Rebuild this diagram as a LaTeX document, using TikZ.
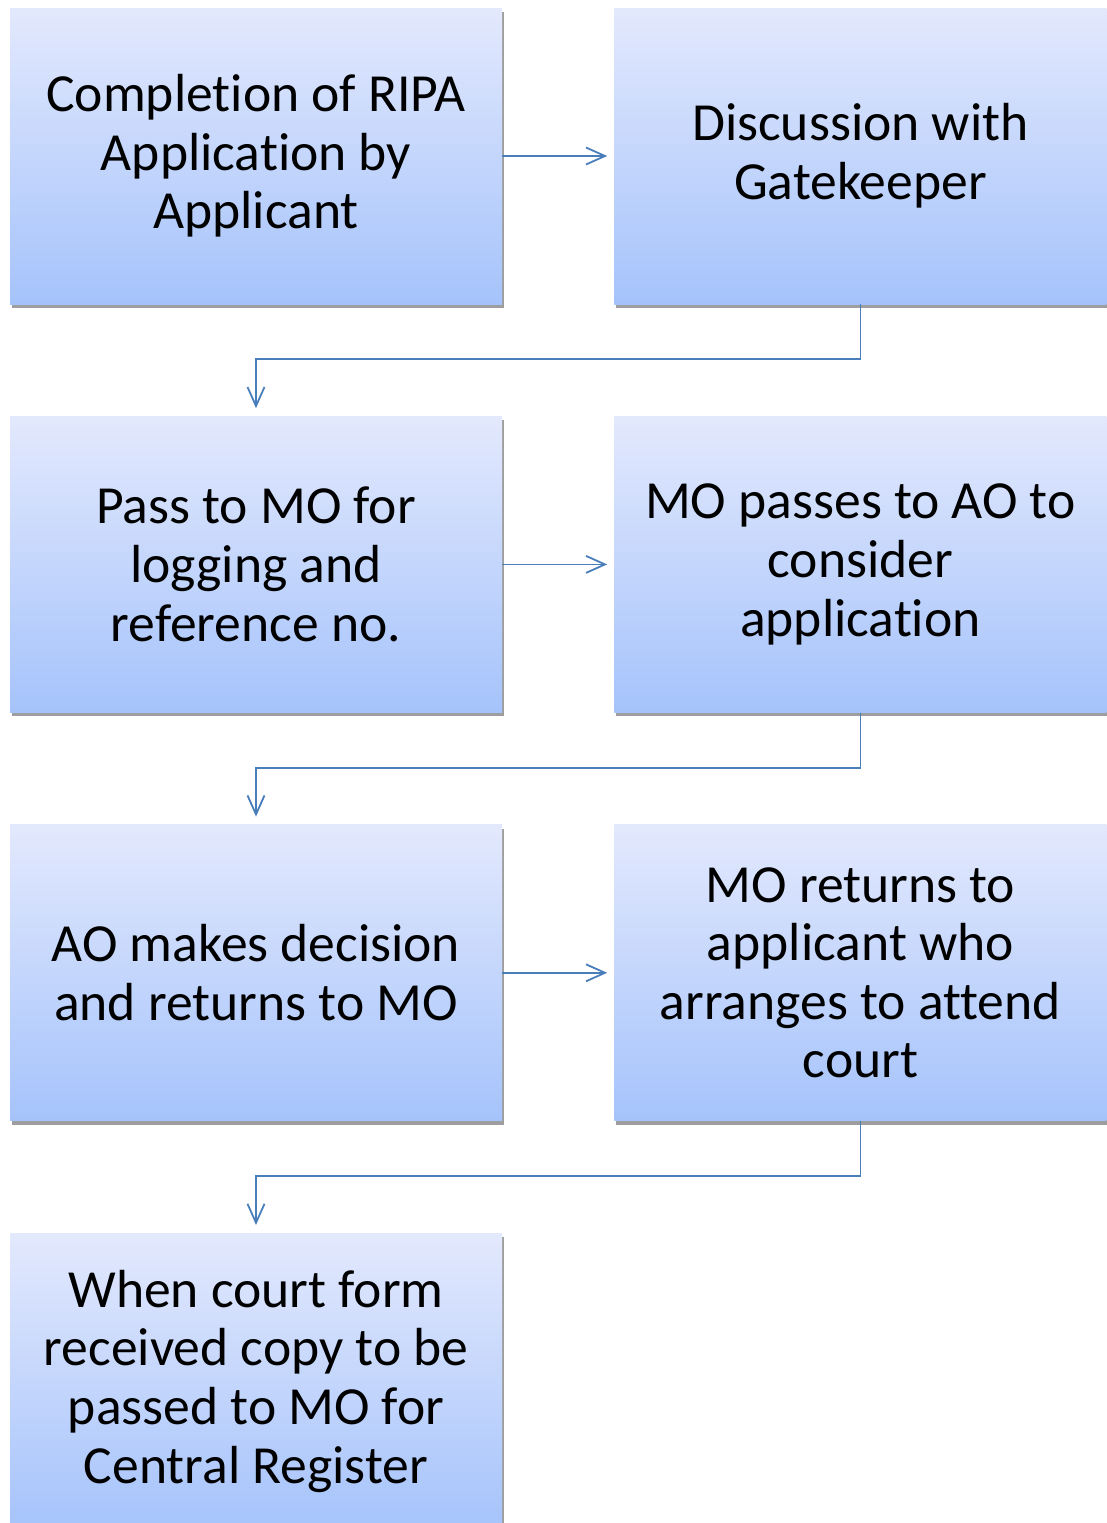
\documentclass[tikz,border=0pt]{standalone}
\usepackage{fontspec}
\setmainfont{Carlito}[Ligatures=CommonOff]
\usetikzlibrary{positioning,arrows.meta,shadows}

\definecolor{boxtop}{HTML}{E3E9FD}
\definecolor{boxbot}{HTML}{A5C3FB}
\definecolor{shadowgray}{HTML}{9E9E9E}
\definecolor{flowblue}{HTML}{4A7EBB}

\begin{document}
\begin{tikzpicture}[x=1pt, y=1pt, node distance=112pt]
  \tikzstyle{stage}=[rectangle, top color=boxtop, bottom color=boxbot, draw=none,
    minimum width=492pt, minimum height=296pt, inner sep=0pt, align=center,
    font=\fontsize{53.6}{58.6}\selectfont,
    general shadow={fill=shadowgray, shadow xshift=2pt, shadow yshift=-4pt}]
  \tikzstyle{flow}=[draw=flowblue, line width=1.8pt,
    -{Straight Barb[length=19pt, width=17pt, line width=1.8pt]}]

  \useasboundingbox (0,0) rectangle (1107,-1523);

  \node[stage] (apply) at (256,-156) {Completion of RIPA\\ Application by\\ Applicant};
  \node[stage, right=of apply] (gate) {Discussion with\\ Gatekeeper};
  \node[stage, below=of apply] (log) {Pass to MO for\\ logging and\\ reference no.};
  \node[stage, right=of log] (consider) {MO passes to AO to\\ consider\\ application};
  \node[stage, below=of log] (decide) {AO makes decision\\ and returns to MO};
  \node[stage, right=of decide] (court) {MO returns to\\ applicant who\\ arranges to attend\\ court};
  \node[stage, below=of decide] (register) {When court form\\ received copy to be\\ passed to MO for\\ Central Register};

  % across
  \draw[flow, shorten >=7pt] (apply) -- (gate);
  \draw[flow, shorten >=7pt] (log) -- (consider);
  \draw[flow, shorten >=7pt] (decide) -- (court);

  % back down to the left column
  \draw[flow, shorten >=8pt] (gate.south) -- ++(0,-55) -| (log.north);
  \draw[flow, shorten >=8pt] (consider.south) -- ++(0,-55) -| (decide.north);
  \draw[flow, shorten >=8pt] (court.south) -- ++(0,-55) -| (register.north);

\end{tikzpicture}
\end{document}
